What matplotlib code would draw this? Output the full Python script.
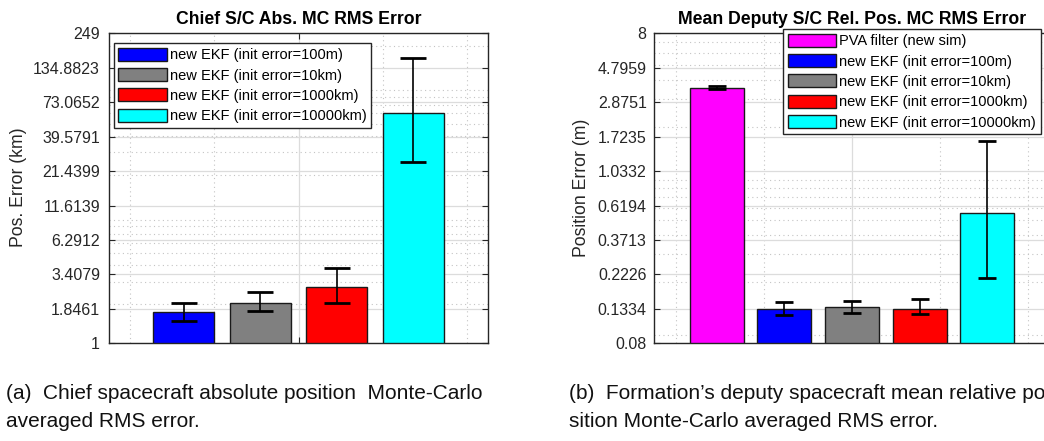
import numpy as np
import matplotlib
matplotlib.use('Agg')
import matplotlib.pyplot as plt
from matplotlib.ticker import FixedLocator, NullFormatter

plt.rcParams['font.family'] = ['Liberation Sans', 'DejaVu Sans']

# 数据
ekf_labels = ['new EKF (init error=100m)', 'new EKF (init error=10km)',
              'new EKF (init error=1000km)', 'new EKF (init error=10000km)']
ekf_colors = ['#0000ff', '#808080', '#ff0000', '#00ffff']

chief_rms = [1.74, 2.06, 2.74, 60.6]
chief_lo = [1.50, 1.79, 2.04, 25.2]
chief_hi = [2.04, 2.48, 3.84, 159.5]
chief_ticks = ['1', '1.8461', '3.4079', '6.2912', '11.6139', '21.4399',
               '39.5791', '73.0652', '134.8823', '249']

deputy_labels = ['PVA filter (new sim)'] + ekf_labels
deputy_colors = ['#ff00ff'] + ekf_colors
deputy_rms = [3.57, 0.1337, 0.1366, 0.1337, 0.557]
deputy_lo = [3.50, 0.121, 0.126, 0.1237, 0.210]
deputy_hi = [3.64, 0.148, 0.149, 0.1545, 1.614]
deputy_ticks = ['0.08', '0.1334', '0.2226', '0.3713', '0.6194', '1.0332',
                '1.7235', '2.8751', '4.7959', '8']

W, H = 1044, 441
fig = plt.figure(figsize=(W / 100, H / 100), dpi=100)

axc = '#262626'


def bar_panel(ax, vals, lo, hi, labels, colors, ticks, title, ylabel,
              cap, leg_anchor, tick_pad):
    n = len(vals)
    gw = min(0.8, n / (n + 1.5))
    step = gw / n
    xs = 1 + (np.arange(n) - (n - 1) / 2) * step
    vals = np.array(vals)
    err = [vals - np.array(lo), np.array(hi) - vals]
    for i in range(n):
        ax.bar(xs[i], vals[i], width=0.8 * step, color=colors[i],
               edgecolor='#1a1a1a', linewidth=1.0, label=labels[i], zorder=2)
    ax.errorbar(xs, vals, yerr=err, fmt='none', ecolor='black',
                elinewidth=1.2, capsize=cap, capthick=2.0, zorder=3)
    ax.set_yscale('log')
    tv = [float(t) for t in ticks]
    ax.set_ylim(tv[0], tv[-1])
    ax.set_yticks(tv)
    ax.set_yticklabels(ticks)
    ax.yaxis.set_minor_formatter(NullFormatter())
    ax.set_xlim(0.55, 1.45)
    ax.set_xticks([1])
    ax.set_xticklabels([])
    ax.xaxis.set_minor_locator(FixedLocator([0.6, 0.8, 1.2, 1.4]))
    ax.set_axisbelow(True)
    ax.grid(True, which='major', color='#dcdcdc', linewidth=0.9, linestyle='-')
    ax.grid(True, which='minor', color='#c4c4c4', linewidth=0.8,
            linestyle=(0, (1, 3)))
    ax.tick_params(which='major', direction='in', length=4, width=0.8,
                   colors=axc, labelsize=11.5, left=True, right=True,
                   top=True, bottom=True, pad=tick_pad)
    ax.tick_params(which='minor', length=0)
    for s in ax.spines.values():
        s.set_color(axc)
        s.set_linewidth(1.0)
    ax.set_title(title, fontsize=12.7, fontweight='bold', color='black', pad=7)
    ax.set_ylabel(ylabel, fontsize=12.7, color=axc, va='center')
    leg = ax.legend(loc='upper left', bbox_to_anchor=leg_anchor, fontsize=10.5,
                    frameon=True, fancybox=False, framealpha=1,
                    edgecolor=axc, handlelength=3.3, handleheight=1.0,
                    handletextpad=0.25, labelspacing=0.4, borderpad=0.3,
                    borderaxespad=0)
    leg.get_frame().set_linewidth(1.0)
    return ax


ax1 = fig.add_axes([109 / W, (H - 343.3) / H, 379 / W, 310 / H])
bar_panel(ax1, chief_rms, chief_lo, chief_hi, ekf_labels, ekf_colors,
          chief_ticks, 'Chief S/C Abs. MC RMS Error', 'Pos. Error (km)',
          9.5, ((114 - 109) / 379, (343.3 - 43.3) / 310), 6.5)
ax1.yaxis.set_label_coords((18.3 - 109) / 379, 0.503)

ax2 = fig.add_axes([654.3 / W, (H - 343.3) / H, 395.5 / W, 310 / H])
bar_panel(ax2, deputy_rms, deputy_lo, deputy_hi, deputy_labels, deputy_colors,
          deputy_ticks, 'Mean Deputy S/C Rel. Pos. MC RMS Error',
          'Position Error (m)',
          6.5, ((783.3 - 654.3) / 395.5, (343.3 - 29.3) / 310), 5.5)
ax2.yaxis.set_label_coords((581 - 654.3) / 395.5, 0.5)

# 图注
cap_kw = dict(fontsize=15.0, color='#111111', va='baseline', ha='left')
fig.text(6 / W, 1 - 399.3 / H,
         '(a)  Chief spacecraft absolute position  Monte-Carlo', **cap_kw)
fig.text(6 / W, 1 - 426.7 / H, 'averaged RMS error.', **cap_kw)
fig.text(569 / W, 1 - 399.3 / H,
         '(b)  Formation\u2019s deputy spacecraft mean relative po', **cap_kw)
fig.text(569 / W, 1 - 426.7 / H,
         'sition Monte-Carlo averaged RMS error.', **cap_kw)

fig.savefig('out.png', dpi=100)
plt.close(fig)
